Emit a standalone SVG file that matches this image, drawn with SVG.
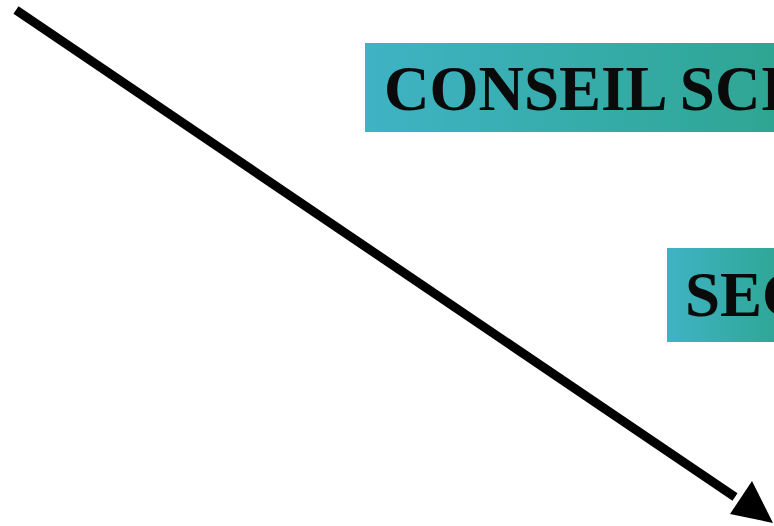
<svg xmlns="http://www.w3.org/2000/svg" width="774" height="526" viewBox="0 0 774 526">
<defs>
<linearGradient id="teal" x1="0" y1="0" x2="1" y2="0">
<stop offset="0" stop-color="#3fb3c4"/>
<stop offset="1" stop-color="#2ea592"/>
</linearGradient>
<style>
.box{fill:url(#teal);}
.lbl{font-family:"Liberation Serif","Times New Roman",serif;font-weight:bold;font-size:63px;fill:#0a0a0a;}
</style>
</defs>
<rect width="774" height="526" fill="#ffffff"/>
<g id="conseil">
<rect class="box" x="365" y="43" width="420" height="89"/>
<text class="lbl" x="384" y="110">CONSEIL SCI</text>
</g>
<g id="sec">
<rect class="box" x="667" y="248" width="120" height="94"/>
<text class="lbl" x="685" y="316">SEC</text>
</g>
<g id="connectors">
<line x1="16" y1="10" x2="735" y2="497" stroke="#000" stroke-width="9" stroke-linecap="butt"/>
<polygon points="773,523 730,514 752,481" fill="#000"/>
</g>
</svg>
